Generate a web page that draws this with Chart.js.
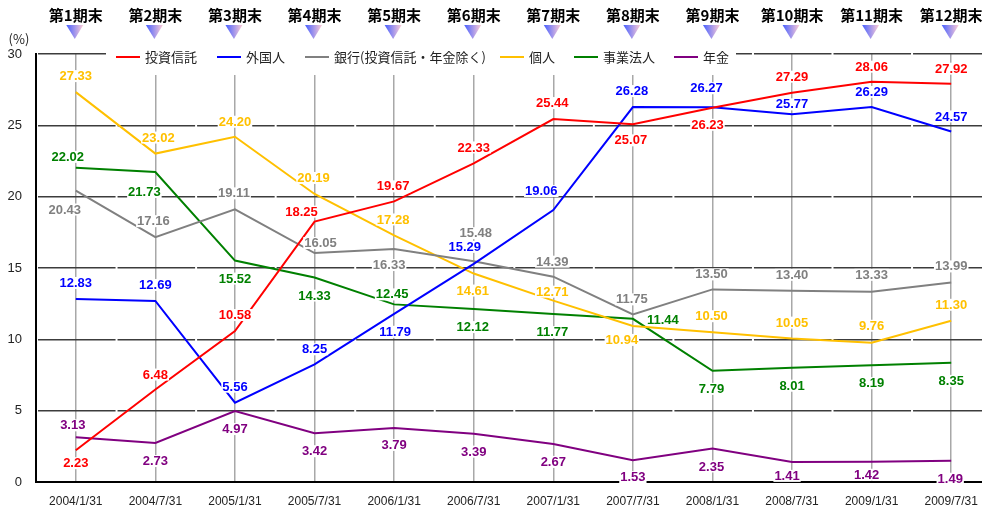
<!DOCTYPE html>
<html><head><meta charset="utf-8">
<script src="https://cdn.jsdelivr.net/npm/chart.js@4"></script>
<style>
html,body{margin:0;padding:0;overflow:hidden;background:#fff;}
#wrap{width:991px;height:511px;position:relative;}
</style>
</head><body>
<div id="wrap"><canvas id="c"></canvas></div>
<script>
// ---- data ----
const categories = ['2004/1/31','2004/7/31','2005/1/31','2005/7/31','2006/1/31','2006/7/31','2007/1/31','2007/7/31','2008/1/31','2008/7/31','2009/1/31','2009/7/31'];
const periodLabels = ['第1期末','第2期末','第3期末','第4期末','第5期末','第6期末','第7期末','第8期末','第9期末','第10期末','第11期末','第12期末'];
const seriesNames = ['投資信託','外国人','銀行(投資信託・年金除く)','個人','事業法人','年金'];
const investmentTrusts = [2.23, 6.48, 10.58, 18.25, 19.67, 22.33, 25.44, 25.07, 26.23, 27.29, 28.06, 27.92];
const foreigners       = [12.83, 12.69, 5.56, 8.25, 11.79, 15.29, 19.06, 26.28, 26.27, 25.77, 26.29, 24.57];
const banks            = [20.43, 17.16, 19.11, 16.05, 16.33, 15.48, 14.39, 11.75, 13.50, 13.40, 13.33, 13.99];
const individuals      = [27.33, 23.02, 24.20, 20.19, 17.28, 14.61, 12.71, 10.94, 10.50, 10.05, 9.76, 11.30];
const corporations     = [22.02, 21.73, 15.52, 14.33, 12.45, 12.12, 11.77, 11.44, 7.79, 8.01, 8.19, 8.35];
const pensions         = [3.13, 2.73, 4.97, 3.42, 3.79, 3.39, 2.67, 1.53, 2.35, 1.41, 1.42, 1.49];
const yAxisUnit = '(%)';

// ---- styles / label placement ----
const colors = ['#ff0000','#0000ff','#808080','#ffc000','#008000','#800080'];
const labelOffsets = [
  [[0,13],[0,-15],[0,-16],[-13,-10],[-1,-15],[0,-16],[-1,-16],[-2,16],[-5,17],[0,-16],[0,-15],[0,-15]],
  [[0,-16],[0,-16],[0,-16],[0,-15],[1,18],[-9,-17],[-12,-19],[-1,-16],[-6,-19],[0,-10],[0,-15],[0,-15]],
  [[-11,19],[-2,-16],[-1,-16],[6,-10],[-5,16],[2,-28],[-1,-15],[-1,-15],[-1,-15],[0,-16],[0,-17],[0,-16]],
  [[0,-16],[3,-16],[0,-15],[-1,-16],[-1,-16],[-1,17],[-1,-9],[-11,14],[-1,-16],[0,-16],[0,-17],[0,-16]],
  [[-8,-11],[-11,20],[0,18],[0,18],[-2,-10],[-1,18],[-1,18],[30,1],[-1,18],[0,18],[0,18],[0,18]],
  [[-3,-12],[0,18],[0,18],[0,18],[0,17],[0,18],[0,18],[0,17],[-1,18],[-5,14],[-5,13],[-1,18]]
];
const legendX = [116,217,305,500,574,674];

const allSeries = [investmentTrusts, foreigners, banks, individuals, corporations, pensions];
const datasets = allSeries.map((d,i)=>({
  label: seriesNames[i], data: d, borderColor: colors[i], backgroundColor: colors[i],
  borderWidth: 2, pointRadius: 0, tension: 0, fill: false
}));

const decor = {
  id: 'decor',
  afterDatasetsDraw(chart){
    const ctx = chart.ctx;
    ctx.save();
    ctx.font = 'bold 13px "Liberation Sans", Arial, sans-serif';
    ctx.textAlign = 'center';
    ctx.textBaseline = 'middle';
    chart.data.datasets.forEach((ds, di)=>{
      const meta = chart.getDatasetMeta(di);
      meta.data.forEach((pt, i)=>{
        const txt = ds.data[i].toFixed(2);
        const off = labelOffsets[di][i];
        const x = pt.x + off[0], y = pt.y + off[1];
        const w = ctx.measureText(txt).width;
        ctx.fillStyle = '#fff';
        ctx.fillRect(x - w/2 - 1, y - 6, w + 2, 12);
        ctx.fillStyle = colors[di];
        ctx.fillText(txt, x, y + 0.5);
      });
    });
    ctx.restore();
  },
  afterDraw(chart){
    const ctx = chart.ctx;
    const xs = chart.scales.x;
    ctx.save();
    // legend
    ctx.fillStyle = '#fff';
    ctx.fillRect(106, 42, 630, 33);
    ctx.font = '13px "Noto Sans CJK JP", sans-serif';
    ctx.textBaseline = 'middle';
    ctx.textAlign = 'left';
    seriesNames.forEach((n,i)=>{
      const x0 = legendX[i];
      ctx.strokeStyle = colors[i];
      ctx.lineWidth = 2;
      ctx.beginPath(); ctx.moveTo(x0, 57); ctx.lineTo(x0+24, 57); ctx.stroke();
      ctx.fillStyle = '#222';
      ctx.fillText(n, x0+29, 57);
    });
    // header period labels + triangles
    ctx.textAlign = 'center';
    ctx.font = 'bold 15px "Noto Sans CJK JP", sans-serif';
    periodLabels.forEach((p,i)=>{
      const cx = xs.getPixelForValue(i);
      ctx.fillStyle = '#000';
      ctx.fillText(p, cx, 15);
      const tx = cx - 1;
      const g = ctx.createLinearGradient(tx-8.5, 0, tx+8.5, 0);
      g.addColorStop(0, 'rgb(70,95,255)');
      g.addColorStop(1, 'rgb(255,205,215)');
      ctx.fillStyle = g;
      ctx.beginPath();
      ctx.moveTo(tx-8.5, 25); ctx.lineTo(tx+8.5, 25); ctx.lineTo(tx, 39); ctx.closePath();
      ctx.fill();
    });
    // unit
    ctx.font = '13px "Noto Sans CJK JP", sans-serif';
    ctx.fillStyle = '#222';
    ctx.fillText(yAxisUnit, 19, 39);
    ctx.restore();
  }
};

new Chart(document.getElementById('c'), {
  type: 'line',
  data: { labels: categories, datasets },
  options: {
    responsive: true, maintainAspectRatio: false, animation: false, devicePixelRatio: 1,
    layout: { padding: { top: 54, left: 0, right: 0, bottom: 0 } },
    plugins: { legend: { display: false }, tooltip: { enabled: false } },
    scales: {
      x: {
        offset: true,
        grid: { offset: false, color: '#a8a8a8', lineWidth: 1.5, drawTicks: false },
        border: { display: true, color: '#000', width: 2 },
        ticks: { padding: 12, maxRotation: 0, autoSkip: false, color: '#222', font: { family: '"Liberation Sans", Arial, sans-serif', size: 12 } },
        afterFit: s => { s.height = 29; }
      },
      y: {
        min: 0, max: 30,
        grid: { color: '#3c3c3c', lineWidth: 1.5, drawTicks: false },
        border: { display: true, color: '#000', width: 2, dash: [77.55, 2], dashOffset: 78.55 },
        ticks: { stepSize: 5, padding: 14, color: '#222', font: { family: '"Liberation Sans", Arial, sans-serif', size: 13 } },
        afterFit: s => { s.width = 36; }
      }
    }
  },
  plugins: [decor]
});
</script>
</body></html>
